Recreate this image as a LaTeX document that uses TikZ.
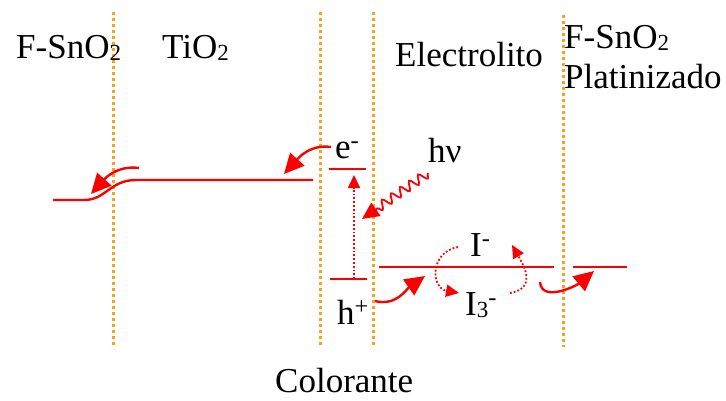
\documentclass[tikz,border=0pt]{standalone}
\usepackage{fontspec}
\setmainfont{Liberation Serif}
\usetikzlibrary{arrows.meta,decorations.pathmorphing}
\definecolor{rojo}{RGB}{250,0,0}
\definecolor{naranja}{RGB}{247,162,30}
\newcommand{\sub}[1]{\raisebox{-2.5pt}{\fontsize{23}{23}\selectfont #1}}

\begin{document}
\begin{tikzpicture}[x=1pt,y=-1pt,
    lbl/.style={anchor=base west, inner sep=0pt, font=\fontsize{35}{40}\selectfont},
    borde/.style={naranja, line width=3pt, dash pattern=on 3pt off 3pt},
    nivel/.style={rojo, line width=2.4pt},
    flecha/.style={rojo, line width=2.4pt, -{Triangle[length=20pt,width=19pt]}},
    punteada/.style={rojo, line width=1.8pt, dash pattern=on 1.8pt off 2pt, -{Triangle[length=13pt,width=12pt]}}]
    \useasboundingbox (0,0) rectangle (726,400);

    % Interfaces
    \draw[borde] (113,12) -- (113,347);
    \draw[borde] (320,12) -- (320,347);
    \draw[borde] (373,12) -- (373,347);
    \draw[borde] (563,15) -- (563,347);

    % Nodes
    \node[lbl] (fto) at (16,58) {F-SnO\sub{2}};
    \node[lbl] (tio) at (162,58) {TiO\sub{2}};
    \node[lbl] (elec) at (395,66) {Electrolito};
    \node[lbl] (ftopt) at (564,48) {F-SnO\sub{2}};
    \node[lbl] (plat) at (564,88) {Platinizado};
    \node[lbl] (col) at (275,392) {Colorante};
    \node[lbl] (e) at (335,158) {e\textsuperscript{-}};
    \node[lbl] (hv) at (428,162) {hν};
    \node[lbl] (h) at (337,324) {h\textsuperscript{+}};
    \node[lbl] (iodo) at (470,256) {I\textsuperscript{-}};
    \node[lbl] (triodo) at (465,315) {I\sub{3}\textsuperscript{-}};

    % Levels
    \coordinate (fto-a) at (53,200);
    \coordinate (fto-b) at (84,200);
    \coordinate (tio-a) at (136,180);
    \coordinate (tio-b) at (313,180);
    \coordinate (lumo-a) at (329,169);
    \coordinate (lumo-b) at (366,169);
    \coordinate (homo-a) at (330,279);
    \coordinate (homo-b) at (367,279);
    \coordinate (homo-m) at (354,279);
    \coordinate (lumo-m) at (354,175);
    \coordinate (red-a) at (379,267);
    \coordinate (red-b) at (554,267);
    \coordinate (pt-a) at (573,267);
    \coordinate (pt-b) at (627,267);

    \draw[nivel] (fto-a) -- (fto-b) .. controls (106,200) and (110,180) .. (tio-a) -- (tio-b);
    \draw[nivel] (lumo-a) -- (lumo-b);
    \draw[nivel] (homo-a) -- (homo-b);
    \draw[nivel] (red-a) -- (red-b);
    \draw[nivel] (pt-a) -- (pt-b);

    % Edges
    \coordinate (inj-a) at (331,147);
    \coordinate (inj-b) at (284,174);
    \coordinate (col-a) at (139,168);
    \coordinate (col-b) at (91,194);
    \coordinate (luz-a) at (428,173);
    \coordinate (luz-b) at (362,219);
    \coordinate (reg-a) at (375,301);
    \coordinate (reg-b) at (425,276);
    \coordinate (ox-a) at (458,247);
    \coordinate (ox-b) at (459,293);
    \coordinate (rd-a) at (510,293);
    \coordinate (rd-b) at (512,245);
    \coordinate (ct-a) at (540,282);
    \coordinate (ct-b) at (594,271);

    \draw[flecha] (inj-a) to[out=172,in=48] (inj-b);
    \draw[flecha] (col-a) to[out=172,in=48] (col-b);
    \draw[punteada] (homo-m) -- (lumo-m);
    \draw[rojo, line width=1.8pt, decorate,
          decoration={snake, amplitude=4.5pt, segment length=11pt, post length=16pt},
          -{Triangle[length=17pt,width=16pt]}] (luz-a) -- (luz-b);
    \draw[flecha] (reg-a) to[out=-15,in=215] (reg-b);
    \draw[punteada] (ox-a) to[out=190,in=170,looseness=1.6] (ox-b);
    \draw[punteada] (rd-a) to[out=10,in=-60,looseness=1.4] (rd-b);
    \draw[flecha] (ct-a) to[out=-85,in=220] (ct-b);
\end{tikzpicture}
\end{document}
